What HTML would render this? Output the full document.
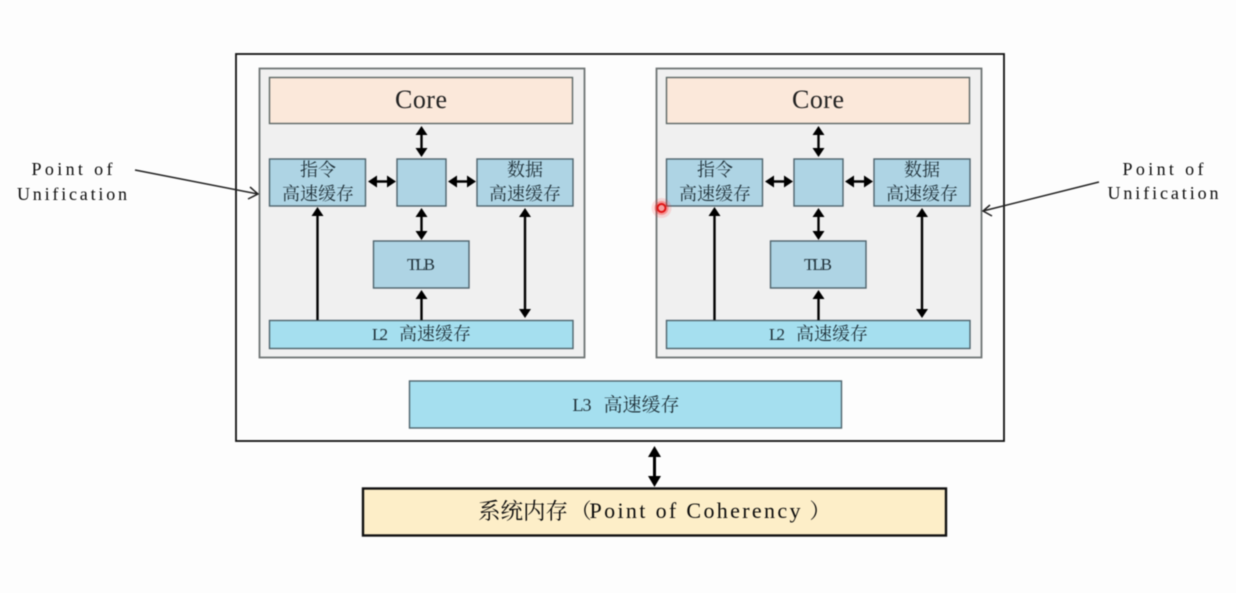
<!DOCTYPE html>
<html><head><meta charset="utf-8"><style>
html,body{margin:0;padding:0;background:#fdfdfd;width:1236px;height:593px;overflow:hidden}
svg{display:block;filter:blur(.4px)}
text{font-family:"Liberation Serif","Noto Serif CJK SC",serif;fill:#1f3038;text-anchor:middle}
.c{font-family:"Noto Serif CJK SC","Liberation Serif",serif;font-size:18px}
.b{fill:#aed4e4;stroke:#4f646d;stroke-width:1.4}
.l{fill:#a5dfef;stroke:#4f646d;stroke-width:1.4}
.a{stroke:#000;stroke-width:2.4;fill:none}
.h{fill:#000}
.k{fill:#0c0c0c}
.o{fill:#fbe8da;stroke:#5e6866;stroke-width:1.4}
.p{fill:#f0f0f0;stroke:#6f7575;stroke-width:1.8}
</style></head><body>
<svg width="1236" height="593" viewBox="0 0 1236 593" xmlns="http://www.w3.org/2000/svg">
<rect x="236" y="54" width="768" height="387" fill="#fdfdfd" stroke="#111" stroke-width="1.8"/>

<g>
<rect class="p" x="259.500" y="68.500" width="325" height="289"/>
<rect class="o" x="269.500" y="77.500" width="303" height="46"/>
<text x="421" y="108" font-size="26" style="fill:#222" textLength="52">Core</text>
<rect class="b" x="269.500" y="159" width="96" height="47"/>
<rect class="b" x="397" y="159" width="49" height="47"/>
<rect class="b" x="477" y="159" width="96" height="47"/>
<rect class="b" x="373.500" y="241" width="95.500" height="47"/>
<rect class="l" x="269.500" y="320.500" width="303.500" height="28"/>
<text class="c" x="318" y="176">指令</text>
<text class="c" x="318" y="200">高速缓存</text>
<text class="c" x="525" y="176">数据</text>
<text class="c" x="525" y="200">高速缓存</text>
<text x="421" y="270" font-size="17" textLength="28">TLB</text>
<text x="380" y="340" font-size="17" textLength="16">L2</text>
<text class="c" x="435" y="340">高速缓存</text>
<path class="a" d="M421.500 132V151M375 181.500H390M453 181.500H470M421.500 213V233M317.500 212V320M421.500 298V320M525 212V312"/>
<path class="h" d="M421.500 126l-6 9h12zM421.500 157l-6-9h12zM368 181.500l9-6v12zM396 181.500l-9-6v12zM448 181.500l9-6v12zM476 181.500l-9-6v12zM421.500 208l-6 9h12zM421.500 240l-6-9h12zM317.500 207l-6 9h12zM421.500 290l-6 9h12zM525 208l-6 9h12zM525 318l-6-9h12z"/>
</g>

<g transform="translate(397,0)">
<rect class="p" x="259.500" y="68.500" width="325" height="289"/>
<rect class="o" x="269.500" y="77.500" width="303" height="46"/>
<text x="421" y="108" font-size="26" style="fill:#222" textLength="52">Core</text>
<rect class="b" x="269.500" y="159" width="96" height="47"/>
<rect class="b" x="397" y="159" width="49" height="47"/>
<rect class="b" x="477" y="159" width="96" height="47"/>
<rect class="b" x="373.500" y="241" width="95.500" height="47"/>
<rect class="l" x="269.500" y="320.500" width="303.500" height="28"/>
<text class="c" x="318" y="176">指令</text>
<text class="c" x="318" y="200">高速缓存</text>
<text class="c" x="525" y="176">数据</text>
<text class="c" x="525" y="200">高速缓存</text>
<text x="421" y="270" font-size="17" textLength="28">TLB</text>
<text x="380" y="340" font-size="17" textLength="16">L2</text>
<text class="c" x="435" y="340">高速缓存</text>
<path class="a" d="M421.500 132V151M375 181.500H390M453 181.500H470M421.500 213V233M317.500 212V320M421.500 298V320M525 212V312"/>
<path class="h" d="M421.500 126l-6 9h12zM421.500 157l-6-9h12zM368 181.500l9-6v12zM396 181.500l-9-6v12zM448 181.500l9-6v12zM476 181.500l-9-6v12zM421.500 208l-6 9h12zM421.500 240l-6-9h12zM317.500 207l-6 9h12zM421.500 290l-6 9h12zM525 208l-6 9h12zM525 318l-6-9h12z"/>
</g>

<rect class="l" x="409.500" y="381" width="432" height="47"/>
<text x="582" y="411" font-size="18" textLength="19">L3</text>
<text class="c" x="641.500" y="411" style="font-size:19px">高速缓存</text>

<path class="a" d="M654.500 453V480" style="stroke-width:3"/>
<path class="h" d="M654.500 446l-6.500 11h13zM654.500 487l-6.500-11h13z"/>

<rect x="363" y="488.500" width="583" height="47" fill="#fdeec8" stroke="#111" stroke-width="2.4"/>
<text class="c k" x="523" y="519" style="font-size:22.500px">系统内存</text>
<text class="k" x="581" y="518" font-size="21">（</text>
<text class="k" x="695" y="518" font-size="22" textLength="211">Point of Coherency</text>
<text class="k" x="820" y="518" font-size="21">）</text>

<text class="k" x="72" y="175" font-size="18" textLength="81">Point of</text>
<text class="k" x="72" y="200" font-size="18" textLength="110">Unification</text>
<text class="k" x="1163" y="175" font-size="18" textLength="81">Point of</text>
<text class="k" x="1163" y="199" font-size="18" textLength="111">Unification</text>

<path d="M135 170L258 194M250 187L258 194L248 199" fill="none" stroke="#222" stroke-width="1.5"/>
<path d="M1099 182L983 211M990 205L983 211L992 216" fill="none" stroke="#222" stroke-width="1.5"/>

<circle cx="661.500" cy="208" r="10" fill="#ff3030" opacity="0.15"/>
<circle cx="661.500" cy="208" r="7" fill="#ff2020" opacity="0.35"/>
<circle cx="661.500" cy="208" r="4" fill="#f4a0a0" stroke="#e01515" stroke-width="2"/>
</svg>
</body></html>
